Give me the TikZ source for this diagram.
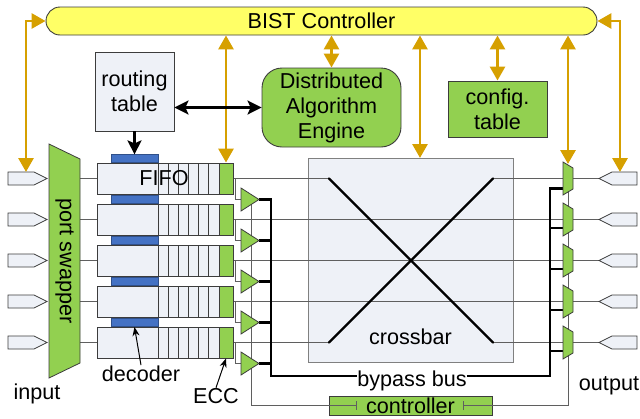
\documentclass[tikz,border=0pt]{standalone}
\usepackage{fontspec}
\setmainfont{Liberation Sans}
\usetikzlibrary{arrows.meta,calc}
\definecolor{gold}{RGB}{214,160,0}
\definecolor{lgreen}{RGB}{146,208,80}
\definecolor{lfill}{RGB}{238,241,247}
\definecolor{dblue}{RGB}{68,114,196}
\definecolor{byel}{RGB}{255,255,102}
\definecolor{edgec}{RGB}{60,60,60}
\definecolor{wirec}{RGB}{95,95,95}
\begin{document}
\begin{tikzpicture}[x=1pt,y=-1pt,
  txt/.style={font=\fontsize{21.6}{25}\selectfont, inner sep=0pt},
  shapebox/.style={draw=edgec, line width=0.9pt, inner sep=0pt, align=center, txt},
  lbox/.style={shapebox, fill=lfill},
  gbox/.style={shapebox, fill=lgreen},
  goldarr/.style={draw=gold, line width=2.9pt, {Triangle[width=15pt,length=14pt]}-{Triangle[width=15pt,length=14pt]}},
  blkarr/.style={draw=black, line width=2.5pt, -{Stealth[width=14pt,length=14pt,inset=3pt]}},
  blkdbl/.style={draw=black, line width=2.5pt, {Stealth[width=14pt,length=14pt,inset=3pt]}-{Stealth[width=14pt,length=14pt,inset=3pt]}},
  wire/.style={draw=wirec, line width=1pt},
  bus/.style={draw=black, line width=2.8pt},
  xline/.style={draw=black, line width=2.4pt, line cap=round},
  pinshape/.style={draw=edgec, fill=lfill, line width=0.8pt},
  gshape/.style={draw=edgec, fill=lgreen, line width=0.8pt},
]
\useasboundingbox (0,0) rectangle (640,418);

% crossbar
\node[lbox, draw=gray, minimum width=205pt, minimum height=204pt] (xbar) at (410.5,260) {};
\node[txt] (xlbl) at (410.5,337) {crossbar};

% controller box
\node[gbox, minimum width=163pt, minimum height=19pt] (ctl) at (410.5,405.5) {controller};

% control wires
\coordinate (cl) at (251,200);
\coordinate (cr) at (568,185);
\draw[wire, -{Bar[width=9pt]}] (cl) |- ([xshift=28pt]ctl.west);
\draw[wire, {Bar[width=9pt]}-] ([xshift=-29pt]ctl.east) -| (cr);

% row wires
\foreach \i in {1,...,5} {
  \pgfmathsetmacro\r{178.5+41*(\i-1)}
  \draw[wire] (80,\r) -- (97,\r);
  \draw[wire] (233,\r) -- (329,\r);
  \draw[wire] (493,\r) -- (563,\r);
  \draw[wire] (573,\r) -- (599,\r);
  \draw[wire] (235,\r) |- (241,\r+21);
}
\foreach \i in {2,3,4} {
  \pgfmathsetmacro\r{178.5+41*(\i-1)}
  \draw[wire] (329,\r) -- (493,\r);
}

% crossbar X
\draw[xline] (329,178.5) -- (493,342.5);
\draw[xline] (329,342.5) -- (493,178.5);

% bypass bus
\node[txt, anchor=base] (bbus) at (412,386) {bypass bus};
\coordinate (busL) at (271,376);
\coordinate (busR) at (550,376);
\draw[bus, line join=miter] (259,199.5) -| (busL) -- (bbus.west |- busL);
\draw[bus, line join=miter] (bbus.east |- busR) -- (busR) |- (563,188.5);
\foreach \i in {2,3,4,5} {
  \pgfmathsetmacro\r{178.5+41*(\i-1)}
  \draw[bus] (259,\r+21) -- (271,\r+21);
  \draw[bus] (550,\r+8.5) -- (563,\r+8.5);
}

% per-row shapes
\foreach \i in {1,...,5} {
  \pgfmathsetmacro\r{178.5+41*(\i-1)}
  % input pin
  \draw[pinshape] (8,\r-6.5) -- (34,\r-6.5) -- (47,\r) -- (34,\r+6.5) -- (8,\r+6.5) -- cycle;
  % output pin
  \draw[pinshape] (599,\r) -- (612,\r-6.5) -- (637,\r-6.5) -- (637,\r+6.5) -- (612,\r+6.5) -- cycle;
  % FIFO
  \node[lbox, minimum width=136pt, minimum height=31pt, anchor=west] (fifo\i) at (97,\r) {};
  \foreach \s in {0,...,5} {
    \draw[draw=edgec, line width=0.8pt] (158+10.17*\s,\r-15.5) -- (158+10.17*\s,\r+15.5);
  }
  \node[gbox, minimum width=14pt, minimum height=31pt] (ecc\i) at (226,\r) {};
  \node[fill=dblue, draw=dblue!70!black, line width=0.6pt, inner sep=0pt, minimum width=47pt, minimum height=8pt, anchor=south] (dec\i) at (134.5,\r-15.5) {};
  % tristate buffer
  \draw[gshape] (241,\r+9.5) -- (259,\r+21) -- (241,\r+32.5) -- cycle;
  % output mux
  \draw[gshape] (563,\r-16.5) -- (573,\r-10.5) -- (573,\r+10.5) -- (563,\r+16.5) -- cycle;
}
\node[txt] (fifolbl) at (164,178.5) {FIFO};

% port swapper
\draw[gshape] (49,144) -- (80,159) -- (80,363) -- (49,378) -- cycle;
\node[txt, rotate=-90] (pswap) at (64.5,261) {port swapper};

% top blocks
\node[shapebox, fill=byel, rounded corners=14pt, minimum width=551pt, minimum height=28pt] (bist) at (321.5,21) {BIST Controller};
\node[lbox, minimum width=79pt, minimum height=79pt] (rt) at (134.5,91.5) {routing\\table};
\node[gbox, rounded corners=20pt, minimum width=139pt, minimum height=79pt] (dae) at (331.5,107.5) {Distributed\\Algorithm\\Engine};
\node[gbox, minimum width=99pt, minimum height=56pt] (cfg) at (497.5,109) {config.\\table};

% labels
\node[txt, anchor=base] (inlbl) at (37,399) {input};
\node[txt, anchor=base] (outlbl) at (609,390) {output};
\node[txt, anchor=base] (declbl) at (141,381) {decoder};
\node[txt, anchor=base] (ecclbl) at (216,403) {ECC};

% gold arrows
\coordinate (inTop) at (26,172);
\coordinate (outTop) at (620,172);
\coordinate (xTop) at (420,158);
\coordinate (muxTop) at (568,164);
\draw[goldarr] (bist.west) -| (inTop);
\draw[goldarr] (bist.east) -| (outTop);
\draw[goldarr] (bist.south -| ecc1.north) -- (ecc1.north);
\draw[goldarr] (bist.south -| dae.north) -- (dae.north);
\draw[goldarr] (bist.south -| xTop) -- (xTop);
\draw[goldarr] (bist.south -| cfg.north) -- (cfg.north);
\draw[goldarr] (bist.south -| muxTop) -- (muxTop);

% black arrows
\draw[blkarr] (rt.south) -- (dec1.north);
\draw[blkdbl] (rt.east |- dae.west) -- (dae.west);
\draw[draw=black, line width=1pt, -{Stealth[width=7pt,length=9pt]}] (declbl.north) -- (dec5.south);
\draw[draw=black, line width=1pt, -{Stealth[width=7pt,length=9pt]}] (ecclbl.north) -- (ecc5.south);
\end{tikzpicture}
\end{document}
